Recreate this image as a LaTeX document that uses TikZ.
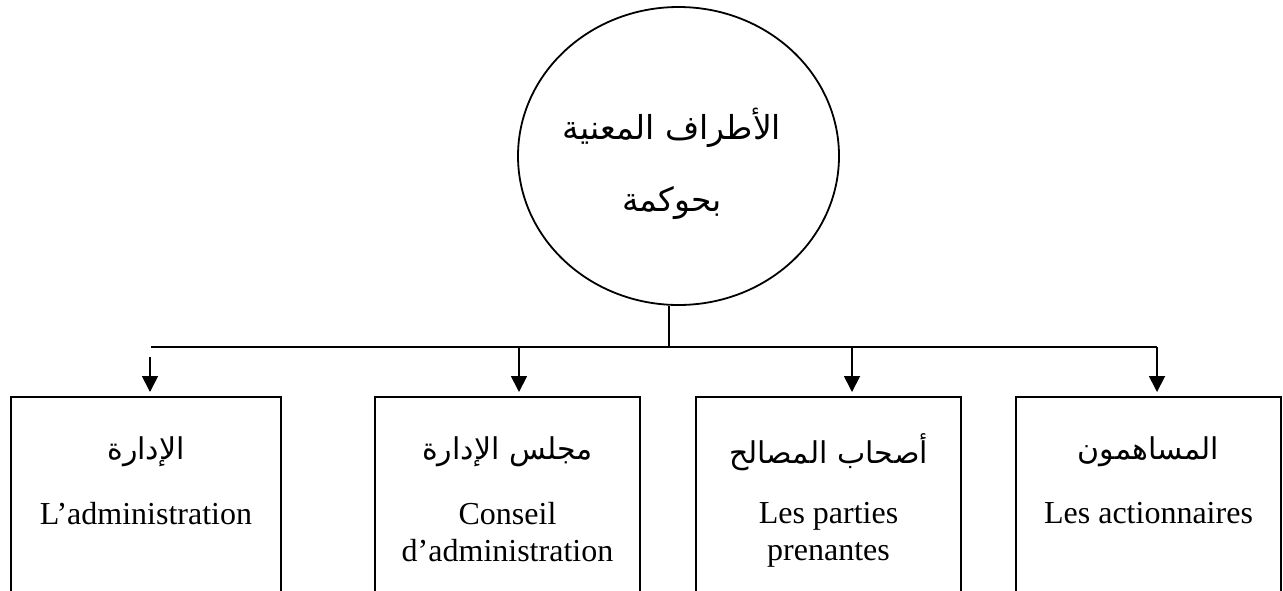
\documentclass[tikz,border=0pt]{standalone}
\usepackage{fontspec}
\setmainfont{Liberation Serif}
\newfontfamily\arabicfont[Script=Arabic]{DejaVu Sans}
\TeXXeTstate=1
\usetikzlibrary{arrows.meta,shapes.geometric}
\tikzset{
  box/.style={draw, line width=1pt, anchor=north, minimum width=132.5pt, minimum height=110pt, inner sep=0pt},
  artext/.style={font=\arabicfont\fontsize{15}{18}\selectfont, inner sep=0pt},
  frtext/.style={font=\fontsize{16}{18.5}\selectfont, align=center, anchor=north, inner sep=0pt},
  arr/.style={-{Triangle[width=8pt,length=8pt]}, line width=0.9pt, shorten >=2pt},
  bus/.style={line width=0.9pt}
}
\begin{document}
\begin{tikzpicture}[x=0.5pt,y=-0.5pt]
\useasboundingbox (0,0) rectangle (1283,590);
\clip (0,0) rectangle (1283,590);
% Circle
\node[draw, ellipse, line width=0.9pt, minimum width=160.5pt, minimum height=149pt,
      inner sep=0pt] (parties) at (678.5,156) {};
\node[align=center, inner sep=0pt, font=\arabicfont\fontsize{16.5}{19}\selectfont]
      (parties-txt) at (672,164) {\beginR الأطراف المعنية\endR\\[17pt]\beginR بحوكمة\endR};
% Boxes
\node[box, minimum width=135pt] (adm) at (146,396) {};
\node[box] (conseil) at (507.5,396) {};
\node[box] (prenantes) at (828.5,396) {};
\node[box] (action) at (1148.5,396) {};
% Box labels
\node[artext] (adm-ar) at (146,452) {\beginR الإدارة\endR};
\node[frtext] (adm-fr) at (146,502) {L’administration};
\node[artext] (conseil-ar) at (507.5,452) {\beginR مجلس الإدارة\endR};
\node[frtext] (conseil-fr) at (507.5,502) {Conseil\\d’administration};
\node[artext] (prenantes-ar) at (828.5,452) {\beginR أصحاب المصالح\endR};
\node[frtext] (prenantes-fr) at (828.5,502) {Les parties\\prenantes};
\node[artext] (action-ar) at (1148.5,452) {\beginR المساهمون\endR};
\node[frtext] (action-fr) at (1148.5,502) {Les actionnaires};
% Connectors
\coordinate (stem) at (669,347);
\coordinate (left) at (151,347);
\coordinate (right) at (1157,347);
\coordinate (a1) at (150,357);
\coordinate (a2) at (519,347);
\coordinate (a3) at (852,347);
\draw[bus] (parties.south -| stem) -- (stem);
\draw[bus] (left) -- (right);
\draw[arr] (a1) -- (a1 |- adm.north);
\draw[arr] (a2) -- (a2 |- conseil.north);
\draw[arr] (a3) -- (a3 |- prenantes.north);
\draw[arr] (right) -- (right |- action.north);
\end{tikzpicture}
\end{document}
